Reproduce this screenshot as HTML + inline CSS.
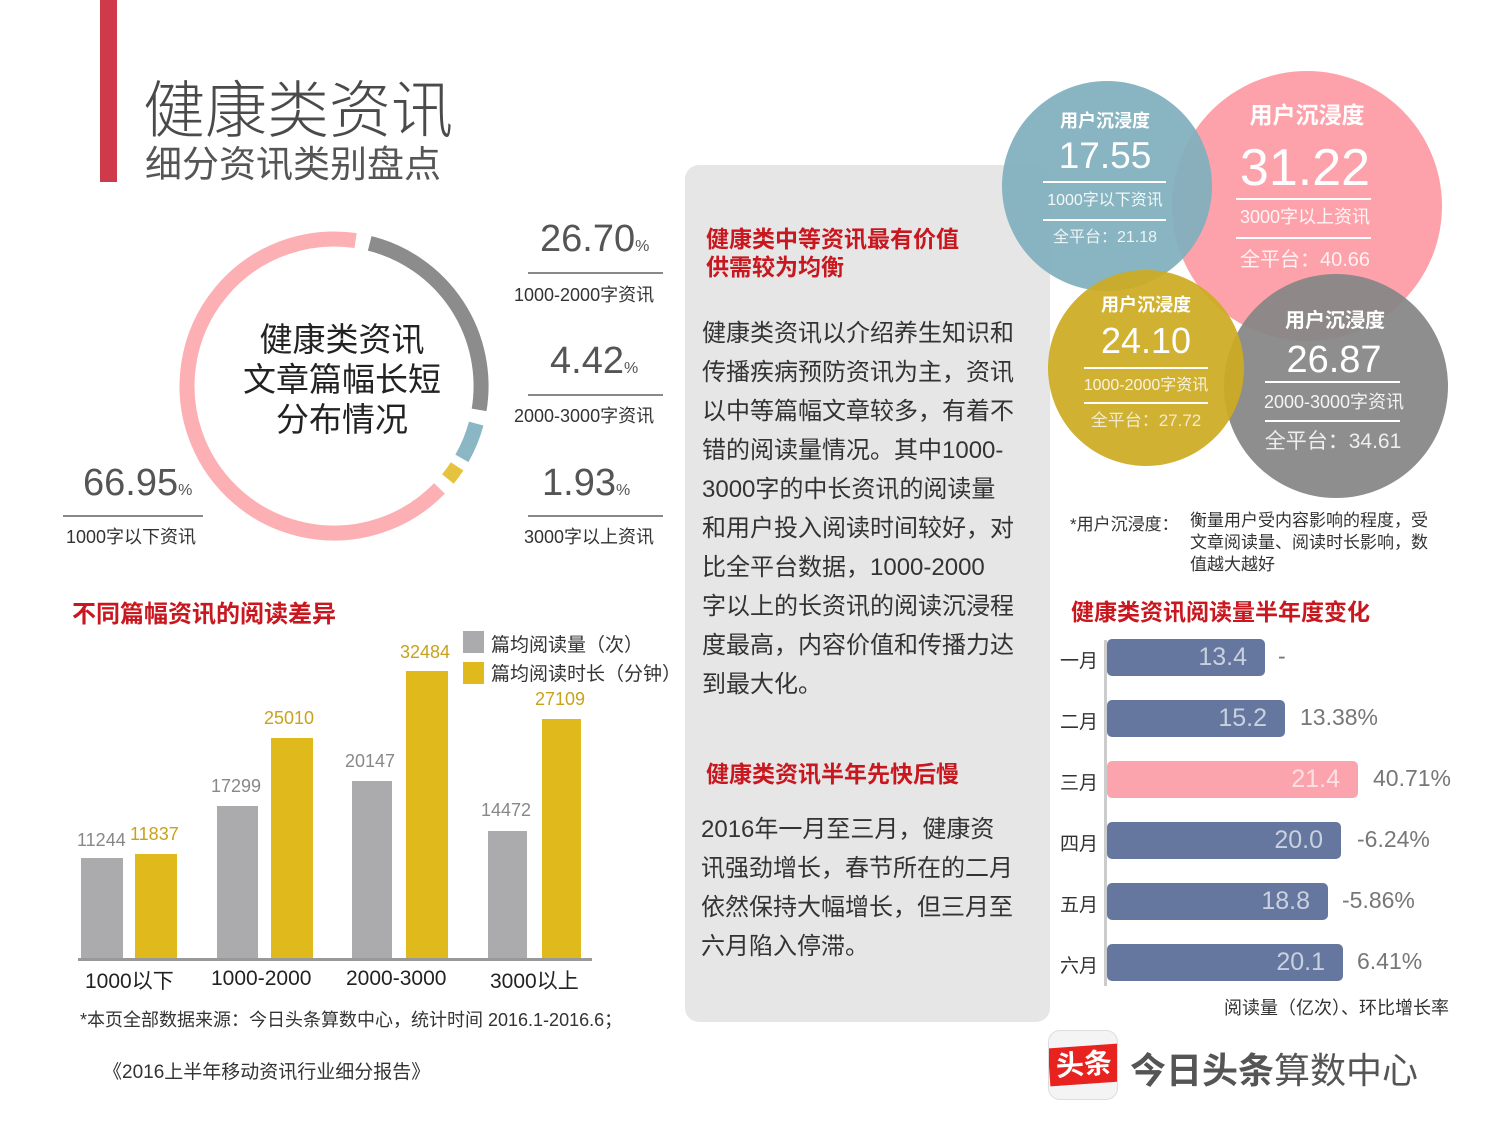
<!DOCTYPE html>
<html><head><meta charset="utf-8"><style>
*{margin:0;padding:0;box-sizing:border-box}
body{width:1500px;height:1125px;background:#fff;position:relative;overflow:hidden;font-family:"Liberation Sans","Noto Sans CJK SC",sans-serif;color:#333}
.a{position:absolute;white-space:nowrap}
.red{color:#c8171e;font-weight:bold}
.bar{position:absolute;background:#65779e;border-radius:5px;height:37px;color:#c9d0e0;font-size:25px;text-align:right;padding-right:18px;line-height:37px}
.ml{position:absolute;left:1060px;font-size:19px;color:#333}
.pct{position:absolute;font-size:23px;color:#777}
</style></head><body>
<div class="a" style="left:100px;top:0;width:17px;height:182px;background:#cf3a4a"></div>
<div class="a" style="left:143px;top:60px;font-size:62px;color:#4a4a4a;font-weight:300">健康类资讯</div>
<div class="a" style="left:145px;top:134px;font-size:37px;color:#555">细分资讯类别盘点</div>

<div class="a" style="left:685px;top:165px;width:365px;height:857px;background:#e6e6e6;border-radius:14px"></div>

<svg class="a" style="left:0;top:0" width="700" height="600">
<g transform="translate(334,386)" fill="none" stroke-width="15">
<path d="M 35.7 -142.6 A 147 147 0 0 1 145.1 23.9" stroke="#8c8c8c"/>
<path d="M 142.2 37.6 A 147 147 0 0 1 127.9 72.4" stroke="#8ab7c3"/>
<path d="M 123.1 80.4 A 147 147 0 0 1 113.9 93.0" stroke="#e5c33e"/>
<path d="M 105.5 102.4 A 147 147 0 1 1 21.6 -145.4" stroke="#fdb0b3"/>
</g>
<g stroke="#888" stroke-width="2"><line x1="528" y1="273" x2="663" y2="273"/><line x1="528" y1="395" x2="663" y2="395"/><line x1="528" y1="516" x2="663" y2="516"/><line x1="63" y1="516" x2="203" y2="516"/></g>
</svg>
<div class="a" style="left:200px;top:320px;width:284px;text-align:center;font-size:33px;line-height:40px;color:#222">健康类资讯<br>文章篇幅长短<br>分布情况</div>
<div class="a" style="left:540px;top:218px;font-size:38px;color:#555">26.70<span style="font-size:16px">%</span></div>
<div class="a" style="left:514px;top:281px;font-size:18px;color:#333">1000-2000字资讯</div>
<div class="a" style="left:550px;top:340px;font-size:38px;color:#555">4.42<span style="font-size:16px">%</span></div>
<div class="a" style="left:514px;top:402px;font-size:18px;color:#333">2000-3000字资讯</div>
<div class="a" style="left:542px;top:462px;font-size:38px;color:#555">1.93<span style="font-size:16px">%</span></div>
<div class="a" style="left:524px;top:523px;font-size:18px;color:#333">3000字以上资讯</div>
<div class="a" style="left:83px;top:462px;font-size:38px;color:#555">66.95<span style="font-size:16px">%</span></div>
<div class="a" style="left:66px;top:523px;font-size:18px;color:#333">1000字以下资讯</div>

<div class="a red" style="left:72px;top:594px;font-size:24px">不同篇幅资讯的阅读差异</div>
<div class="a" style="left:463px;top:631px;width:21px;height:22px;background:#abaaac"></div>
<div class="a" style="left:463px;top:662px;width:21px;height:22px;background:#e0b91c"></div>
<div class="a" style="left:491px;top:630px;font-size:19px;color:#333">篇均阅读量（次）</div>
<div class="a" style="left:491px;top:659px;font-size:19px;color:#333">篇均阅读时长（分钟）</div>
<div class="a" style="left:81px;top:858px;width:42px;height:100px;background:#abaaac"></div>
<div class="a" style="left:135px;top:854px;width:42px;height:104px;background:#e0b91c"></div>
<div class="a" style="left:217px;top:806px;width:41px;height:152px;background:#abaaac"></div>
<div class="a" style="left:271px;top:738px;width:42px;height:220px;background:#e0b91c"></div>
<div class="a" style="left:352px;top:781px;width:40px;height:177px;background:#abaaac"></div>
<div class="a" style="left:406px;top:671px;width:42px;height:287px;background:#e0b91c"></div>
<div class="a" style="left:488px;top:831px;width:39px;height:127px;background:#abaaac"></div>
<div class="a" style="left:542px;top:719px;width:39px;height:239px;background:#e0b91c"></div>
<div class="a" style="left:78px;top:958px;width:514px;height:3px;background:#999"></div>
<div class="a" style="left:77px;top:830px;font-size:18px;color:#888">11244</div>
<div class="a" style="left:130px;top:824px;font-size:18px;color:#c9a21b">11837</div>
<div class="a" style="left:211px;top:776px;font-size:18px;color:#888">17299</div>
<div class="a" style="left:264px;top:708px;font-size:18px;color:#c9a21b">25010</div>
<div class="a" style="left:345px;top:751px;font-size:18px;color:#888">20147</div>
<div class="a" style="left:400px;top:642px;font-size:18px;color:#c9a21b">32484</div>
<div class="a" style="left:481px;top:800px;font-size:18px;color:#888">14472</div>
<div class="a" style="left:535px;top:689px;font-size:18px;color:#c9a21b">27109</div>
<div class="a" style="left:85px;top:965px;font-size:21px;color:#222">1000以下</div>
<div class="a" style="left:211px;top:967px;font-size:21px;color:#222">1000-2000</div>
<div class="a" style="left:346px;top:967px;font-size:21px;color:#222">2000-3000</div>
<div class="a" style="left:490px;top:965px;font-size:21px;color:#222">3000以上</div>
<div class="a" style="left:80px;top:1006px;font-size:18px;color:#333">*本页全部数据来源：今日头条算数中心，统计时间 2016.1-2016.6；</div>
<div class="a" style="left:103px;top:1057px;font-size:19px;color:#333">《2016上半年移动资讯行业细分报告》</div>

<div class="a red" style="left:706px;top:225px;font-size:23px;line-height:28px">健康类中等资讯最有价值<br>供需较为均衡</div>
<div class="a" style="left:702px;top:314px;font-size:24px;line-height:39px;color:#333">健康类资讯以介绍养生知识和<br>传播疾病预防资讯为主，资讯<br>以中等篇幅文章较多，有着不<br>错的阅读量情况。其中1000-<br>3000字的中长资讯的阅读量<br>和用户投入阅读时间较好，对<br>比全平台数据，1000-2000<br>字以上的长资讯的阅读沉浸程<br>度最高，内容价值和传播力达<br>到最大化。</div>
<div class="a red" style="left:706px;top:755px;font-size:23px">健康类资讯半年先快后慢</div>
<div class="a" style="left:701px;top:810px;font-size:24px;line-height:39px;color:#333">2016年一月至三月，健康资<br>讯强劲增长，春节所在的二月<br>依然保持大幅增长，但三月至<br>六月陷入停滞。</div>

<svg class="a" style="left:0;top:0" width="1500" height="500">
<circle cx="1307" cy="206" r="135" fill="#fda2aa"/>
<circle cx="1107" cy="186" r="105" fill="#7fafbc" fill-opacity="0.93"/>
<circle cx="1336" cy="386" r="112" fill="#858585" fill-opacity="0.93"/>
<circle cx="1146" cy="368" r="98" fill="#ccab22" fill-opacity="0.93"/>
<g stroke="#fff" stroke-width="2"><line x1="1043" y1="182" x2="1166" y2="182"/><line x1="1043" y1="220" x2="1166" y2="220"/><line x1="1236" y1="199" x2="1371" y2="199"/><line x1="1236" y1="238" x2="1371" y2="238"/><line x1="1084" y1="368" x2="1208" y2="368"/><line x1="1084" y1="403" x2="1208" y2="403"/><line x1="1265" y1="382" x2="1400" y2="382"/><line x1="1265" y1="421" x2="1400" y2="421"/></g>
<g fill="#fff" font-family="Liberation Sans,Noto Sans CJK SC,sans-serif" text-anchor="middle">
<text x="1105" y="127" font-size="18" font-weight="bold">用户沉浸度</text>
<text x="1105" y="168" font-size="37">17.55</text>
<text x="1105" y="205" font-size="16" fill-opacity="0.9">1000字以下资讯</text>
<text x="1105" y="242" font-size="16" fill-opacity="0.85">全平台：21.18</text>
<text x="1307" y="123" font-size="23" font-weight="bold">用户沉浸度</text>
<text x="1305" y="185" font-size="52">31.22</text>
<text x="1305" y="223" font-size="18" fill-opacity="0.9">3000字以上资讯</text>
<text x="1305" y="266" font-size="20" fill-opacity="0.85">全平台：40.66</text>
<text x="1146" y="311" font-size="18" font-weight="bold">用户沉浸度</text>
<text x="1146" y="353" font-size="36">24.10</text>
<text x="1146" y="390" font-size="16" fill-opacity="0.85">1000-2000字资讯</text>
<text x="1146" y="426" font-size="17" fill-opacity="0.75">全平台：27.72</text>
<text x="1335" y="327" font-size="20" font-weight="bold">用户沉浸度</text>
<text x="1334" y="372" font-size="38">26.87</text>
<text x="1334" y="408" font-size="18" fill-opacity="0.9">2000-3000字资讯</text>
<text x="1333" y="448" font-size="21" fill-opacity="0.85">全平台：34.61</text>
</g>
</svg>

<div class="a" style="left:1070px;top:510px;font-size:17px;color:#333">*用户沉浸度：</div>
<div class="a" style="left:1190px;top:510px;font-size:17px;line-height:22px;color:#333">衡量用户受内容影响的程度，受<br>文章阅读量、阅读时长影响，数<br>值越大越好</div>
<div class="a red" style="left:1071px;top:593px;font-size:23px">健康类资讯阅读量半年度变化</div>

<div class="a" style="left:1104px;top:640px;width:3px;height:346px;background:#ccc"></div>
<div class="ml" style="top:646px">一月</div><div class="bar" style="left:1107px;top:639px;width:158px">13.4</div><div class="pct" style="left:1278px;top:643px">-</div>
<div class="ml" style="top:707px">二月</div><div class="bar" style="left:1107px;top:700px;width:178px">15.2</div><div class="pct" style="left:1300px;top:704px">13.38%</div>
<div class="ml" style="top:768px">三月</div><div class="bar" style="left:1107px;top:761px;width:251px;background:#fba4ad;color:#fde0e3">21.4</div><div class="pct" style="left:1373px;top:765px">40.71%</div>
<div class="ml" style="top:829px">四月</div><div class="bar" style="left:1107px;top:822px;width:234px">20.0</div><div class="pct" style="left:1357px;top:826px">-6.24%</div>
<div class="ml" style="top:890px">五月</div><div class="bar" style="left:1107px;top:883px;width:221px">18.8</div><div class="pct" style="left:1342px;top:887px">-5.86%</div>
<div class="ml" style="top:951px">六月</div><div class="bar" style="left:1107px;top:944px;width:236px">20.1</div><div class="pct" style="left:1357px;top:948px">6.41%</div>
<div class="a" style="left:1224px;top:994px;font-size:18px;color:#333">阅读量（亿次）、环比增长率</div>

<div class="a" style="left:1048px;top:1030px;width:70px;height:70px;border-radius:12px;background:#f4f4f4;border:1px solid #ddd;overflow:hidden">
<div class="a" style="left:0;top:15px;width:70px;height:38px;background:#e8221e;transform:rotate(-4deg);color:#fff;font-weight:bold;font-size:28px;text-align:center;line-height:38px">头条</div></div>
<div class="a" style="left:1130px;top:1042px;font-size:36px;color:#555"><b>今日头条</b>算数中心</div>
</body></html>
